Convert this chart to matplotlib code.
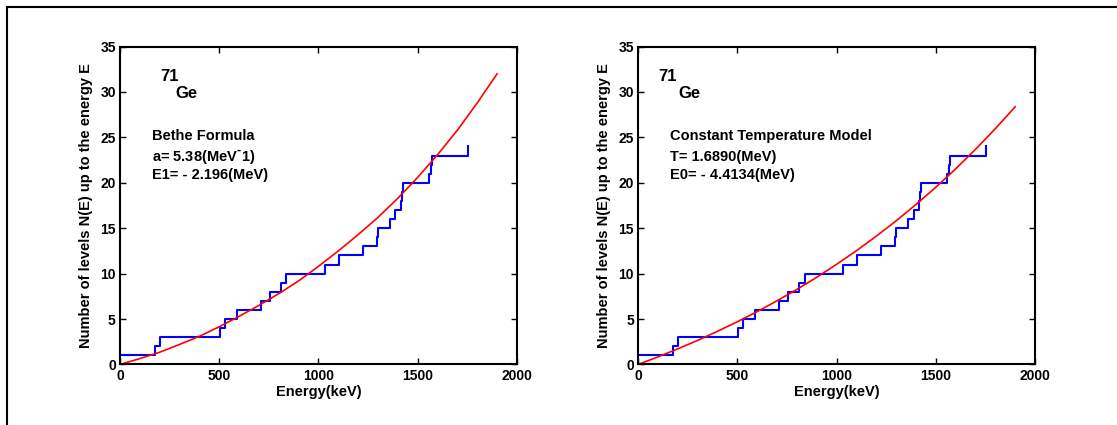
import matplotlib
matplotlib.use("Agg")
import matplotlib.pyplot as plt
from matplotlib.lines import Line2D

plt.rcParams['font.family'] = ['Liberation Sans', 'DejaVu Sans']
plt.rcParams['font.weight'] = 'bold'
plt.rcParams['axes.labelweight'] = 'bold'
plt.rcParams['mathtext.default'] = 'bf'

level_energy = [0, 176, 202, 504, 527, 590, 712, 756, 812, 839, 1035, 1104,
                1223, 1294, 1302, 1358, 1388, 1415, 1420, 1425, 1555, 1568,
                1572, 1755]
level_count = list(range(1, len(level_energy) + 1))

# fitted curves, every 100 keV
curve_energy = [0, 100, 200, 300, 400, 500, 600, 700, 800, 900, 1000,
                1100, 1200, 1300, 1400, 1500, 1600, 1700, 1800, 1900]
bethe_n = [0, 0.65, 1.35, 2.2, 3.1, 4.15, 5.3, 6.5, 7.8, 9.2, 10.8,
           12.5, 14.3, 16.2, 18.3, 20.6, 23.1, 25.8, 28.8, 32.0]
ctm_n = [0, 0.83, 1.72, 2.65, 3.65, 4.70, 5.82, 7.01, 8.26, 9.60, 11.02,
         12.52, 14.12, 15.81, 17.61, 19.51, 21.53, 23.68, 25.96, 28.37]

panels = [
    ("Bethe Formula", [r"a= 5.38(MeV$^{\text{-}}$1)", "E1= - 2.196(MeV)"], bethe_n,
     0.1074, (0.1008, 0.1385)),
    ("Constant Temperature Model", ["T= 1.6890(MeV)", "E0= - 4.4134(MeV)"], ctm_n,
     0.5712, (0.0504, 0.1008)),
]

fig = plt.figure(figsize=(11.17, 4.25), dpi=100)

for title, params, curve, left, (x71, xge) in panels:
    ax = fig.add_axes([left, 0.1424, 0.3554, 0.748])
    ax.plot(level_energy, level_count, drawstyle='steps-post', color='#0000ff', lw=1.5)
    ax.plot(curve_energy, curve, color='#ff0000', lw=1.2)
    ax.set_xlim(0, 2000)
    ax.set_ylim(0, 35)
    ax.set_xticks([0, 500, 1000, 1500, 2000])
    ax.set_yticks(range(0, 36, 5))
    ax.tick_params(direction='in', top=True, right=True, length=4, width=1,
                   labelsize=10, pad=3)
    for lab in ax.get_xticklabels() + ax.get_yticklabels():
        lab.set_fontweight('bold')
    for s in ax.spines.values():
        s.set_linewidth(1.5)
    ax.set_xlabel("Energy(keV)", fontsize=10.5, fontweight='bold', labelpad=2)
    ax.set_ylabel("Number of levels N(E) up to the energy E", fontsize=10.5,
                  fontweight='bold', labelpad=5)

    tr = ax.transAxes
    ax.text(x71, 0.907, "71", transform=tr, fontsize=12, fontweight='bold', va='center')
    ax.text(xge, 0.851, "Ge", transform=tr, fontsize=12, fontweight='bold', va='center')
    ax.text(0.0806, 0.719, title, transform=tr, fontsize=10.5, fontweight='bold', va='center')
    ax.text(0.0806, 0.652, params[0], transform=tr, fontsize=10.5, fontweight='bold', va='center')
    ax.text(0.0806, 0.596, params[1], transform=tr, fontsize=10.5, fontweight='bold', va='center')

# outer frame (only top and left edges visible)
fig.add_artist(Line2D([0.0063, 0.0063], [0, 0.984], color='black', lw=1.5))
fig.add_artist(Line2D([0.0063, 1.0], [0.984, 0.984], color='black', lw=1.5))

fig.savefig("out.png", dpi=100)
